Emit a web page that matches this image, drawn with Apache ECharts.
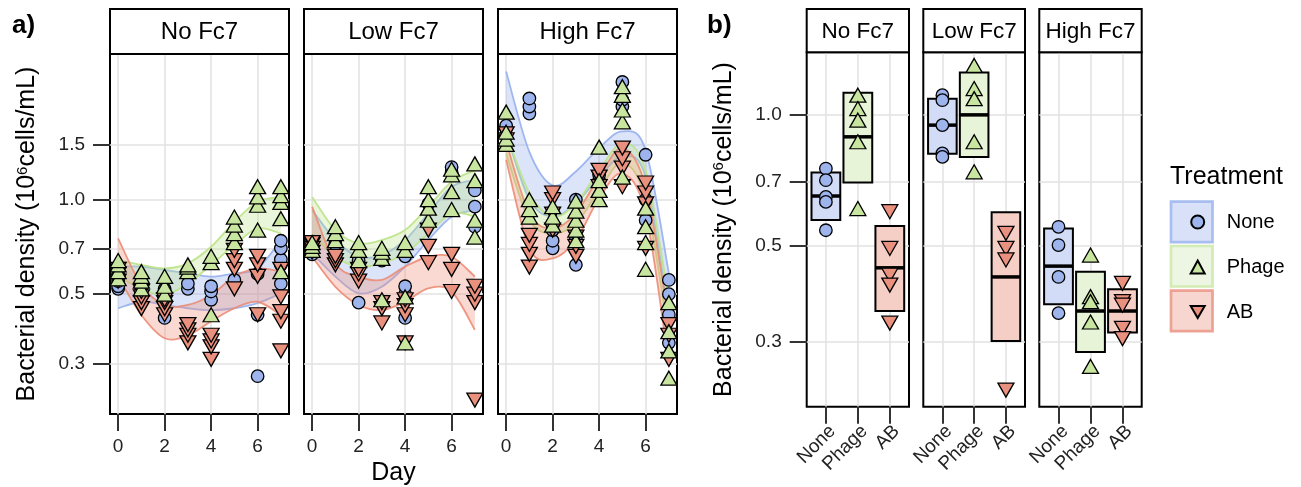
<!DOCTYPE html>
<html><head><meta charset="utf-8">
<script src="https://cdn.jsdelivr.net/npm/echarts@6/dist/echarts.min.js"></script>
<style>html,body{margin:0;padding:0;background:#fff}#c{width:1301px;height:487px}</style>
</head><body><div id="c"></div>
<script>
// ---------- data ----------
const treatments = ['None', 'Phage', 'AB'];
const facets = ['No Fc7', 'Low Fc7', 'High Fc7'];
const days = [0, 1, 2, 3, 4, 5, 6, 7];
const dayTicks = [0, 2, 4, 6];
const yTicksA = [0.3, 0.5, 0.7, 1.0, 1.5];
const yTicksB = [0.3, 0.5, 0.7, 1.0];

// panel a: replicate densities per day (index = day)
const ptsNoNone = [[0.52,0.53,0.55,0.56,0.58],[0.51,0.52,0.53],[0.42,0.49,0.52],[0.52,0.54],[0.48,0.51,0.53],[0.555],[0.274,0.43,0.58],[0.54,0.62,0.645,0.70,0.74]];
const ptsNoPhage = [[0.56,0.59,0.62,0.64],[0.52,0.55,0.57,0.59],[0.50,0.53,0.57],[0.59,0.61,0.62],[0.43,0.63,0.66],[0.73,0.78,0.83,0.88],[0.80,0.96,1.02,1.10],[0.59,0.87,0.98,1.03,1.10]];
const ptsNoAB = [[0.55,0.58,0.60],[0.45,0.47,0.49,0.51],[0.43,0.45,0.47,0.48],[0.35,0.37,0.385,0.40],[0.31,0.34,0.355,0.37],[0.52,0.60,0.64,0.69],[0.43,0.57,0.62,0.66],[0.33,0.41,0.44,0.49,0.60]];
const ptsLowNone = [[0.67,0.69,0.70],[0.72,0.75],[0.47,0.64],[0.64],[0.42,0.50,0.53,0.66],[0.97],[1.22,1.27],[0.82,0.95,1.07]];
const ptsLowPhage = [[0.69,0.71,0.73],[0.74,0.78,0.82],[0.64,0.69,0.73],[0.48,0.65,0.68,0.70],[0.35,0.49,0.69,0.73],[0.86,0.94,1.0,1.10],[0.93,1.06,1.20,1.25],[0.76,0.86,1.15,1.30]];
const ptsLowAB = [[0.68,0.70,0.72,0.73],[0.62,0.64,0.66],[0.55,0.58,0.60],[0.405,0.45,0.47],[0.35,0.43,0.46,0.48],[0.63,0.71,0.80],[0.51,0.60,0.67],[0.23,0.47,0.50,0.53]];
const ptsHighNone = [[1.60,1.69,1.72],[1.88,1.98,2.10],[0.70,0.74,0.80],[0.62,0.75,1.00],[1.15,1.20],[1.98,2.08,2.37],[0.86,1.0,1.39],[0.35,0.43,0.50,0.555]];
const ptsHighPhage = [[1.50,1.56,1.64,1.90],[0.88,0.93,1.0],[0.83,0.88,0.95],[0.74,0.80,0.86,0.92,0.99],[1.00,1.07,1.15,1.47],[1.18,1.77,1.93,2.15,2.29],[0.60,0.73,0.82,0.94],[0.27,0.33,0.38,0.47]];
const ptsHighAB = [[1.55,1.62],[0.61,0.67,0.72,0.77],[0.80,0.90,1.0,1.05],[0.66,0.71,0.76],[1.10,1.18,1.24],[1.10,1.26,1.35,1.46],[0.70,0.97,1.05,1.13],[0.31,0.37,0.40]];

// panel a: smoothed fit confidence band (lower / upper) at each day
const fitNoNoneLo = [0.451,0.473,0.462,0.451,0.445,0.451,0.468,0.503];
const fitNoNoneHi = [0.612,0.612,0.597,0.583,0.569,0.583,0.604,0.744];
const fitNoPhageLo = [0.569,0.52,0.497,0.541,0.62,0.717,0.81,0.78];
const fitNoPhageHi = [0.642,0.62,0.604,0.627,0.708,0.85,0.985,1.02];
const fitNoABLo = [0.569,0.429,0.362,0.37,0.41,0.451,0.473,0.429];
const fitNoABHi = [0.753,0.535,0.462,0.462,0.497,0.569,0.604,0.59];
const fitLowNoneLo = [0.675,0.569,0.503,0.528,0.612,0.744,0.883,0.927];
const fitLowNoneHi = [0.927,0.744,0.658,0.667,0.744,0.905,1.10,1.155];
const fitLowPhageLo = [0.78,0.658,0.612,0.627,0.675,0.78,0.905,0.883];
const fitLowPhageHi = [1.02,0.80,0.726,0.744,0.80,0.95,1.14,1.24];
const fitLowABLo = [0.658,0.528,0.462,0.445,0.473,0.522,0.51,0.385];
const fitLowABHi = [0.95,0.627,0.569,0.555,0.612,0.658,0.658,0.569];
const fitHighNoneLo = [1.63,1.0,0.883,0.973,1.18,1.37,1.18,0.424];
const fitHighNoneHi = [2.56,1.42,1.11,1.23,1.46,1.65,1.44,0.583];
const fitHighPhageLo = [1.40,0.861,0.78,0.84,1.07,1.31,1.0,0.366];
const fitHighPhageHi = [1.63,1.05,0.883,0.973,1.24,1.51,1.24,0.479];
const fitHighABLo = [1.34,0.70,0.65,0.744,1.01,1.21,0.905,0.30];
const fitHighABHi = [1.53,0.905,0.81,0.905,1.18,1.46,1.10,0.414];

// panel b: box [lower, middle, upper] per treatment (None, Phage, AB)
const boxNoFc7 = [[0.572,0.65,0.736],[0.698,0.89,1.124],[0.353,0.444,0.554]];
const boxLowFc7 = [[0.814,0.947,1.09],[0.80,1.0,1.252],[0.301,0.423,0.596]];
const boxHighFc7 = [[0.366,0.448,0.547],[0.284,0.353,0.435],[0.315,0.353,0.396]];
// panel b: replicate values
const sumNoNone = [0.752,0.707,0.647,0.63,0.542];
const sumNoPhage = [1.11,1.034,0.972,0.867,0.608];
const sumNoAB = [0.598,0.492,0.427,0.405,0.331];
const sumLowNone = [1.11,1.081,0.947,0.815,0.80];
const sumLowPhage = [1.30,1.15,1.09,0.867,0.739];
const sumLowAB = [0.533,0.492,0.463,0.232];
const sumHighNone = [0.552,0.501,0.423,0.349];
const sumHighPhage = [0.475,0.381,0.371,0.333,0.263];
const sumHighAB = [0.409,0.371,0.364,0.322,0.305];

// ---------- styling ----------
const FONT = '"Liberation Sans", Arial, Helvetica, sans-serif';
const ptColor = {None: '#9db4ec', Phage: '#c8e69f', AB: '#ea907e'};
const bandFill = {None: 'rgba(140,165,235,0.30)', Phage: 'rgba(190,228,140,0.33)', AB: 'rgba(236,140,118,0.33)'};
const bandLine = {None: 'rgba(150,175,238,0.9)', Phage: 'rgba(190,228,140,0.95)', AB: 'rgba(236,140,118,0.9)'};
const boxFill = {None: '#d2dcf6', Phage: '#e8f4d8', AB: '#f5cfc6'};
const keyFill = {None: '#d8e1f7', Phage: '#edf6e2', AB: '#f6d6cf'};
const keyLine = {None: '#a8bef0', Phage: '#d3ebb4', AB: '#eda293'};
const DOWN_TRI = 'path://M0,0L10,0L5,8.66Z';
const symbolOf = {None: 'circle', Phage: 'triangle', AB: DOWN_TRI};
const sizeOf = {None: 12.5, Phage: [16, 14], AB: [16, 14]};

const gridA = [110, 304, 498].map(l => ({left: l, top: 54, width: 179, height: 360}));
const gridB = [[806.7, 102.3], [923.3, 101.7], [1039.3, 102.4]].map(([l, w]) => ({left: l, top: 52.3, width: w, height: 354.4}));

const ptsA = [[ptsNoNone, ptsNoPhage, ptsNoAB], [ptsLowNone, ptsLowPhage, ptsLowAB], [ptsHighNone, ptsHighPhage, ptsHighAB]];
const fitA = [
  [[fitNoNoneLo, fitNoNoneHi], [fitNoPhageLo, fitNoPhageHi], [fitNoABLo, fitNoABHi]],
  [[fitLowNoneLo, fitLowNoneHi], [fitLowPhageLo, fitLowPhageHi], [fitLowABLo, fitLowABHi]],
  [[fitHighNoneLo, fitHighNoneHi], [fitHighPhageLo, fitHighPhageHi], [fitHighABLo, fitHighABHi]]
];
const boxB = [boxNoFc7, boxLowFc7, boxHighFc7];
const sumB = [[sumNoNone, sumNoPhage, sumNoAB], [sumLowNone, sumLowPhage, sumLowAB], [sumHighNone, sumHighPhage, sumHighAB]];

const tickStyle = {color: '#333', width: 2};
const gridLine = {show: true, lineStyle: {color: '#e2e2e2', width: 1.5}};
const labelBase = {fontSize: 19, color: '#222', fontFamily: FONT};
const noLine = {show: false, onZero: false};

// Catmull-Rom spline through pixel points -> cubic Bezier path commands
function splineSegs(p) {
  let s = '';
  for (let i = 0; i < p.length - 1; i++) {
    const p0 = p[Math.max(i - 1, 0)], p1 = p[i], p2 = p[i + 1], p3 = p[Math.min(i + 2, p.length - 1)];
    const c1 = [p1[0] + (p2[0] - p0[0]) / 6, p1[1] + (p2[1] - p0[1]) / 6];
    const c2 = [p2[0] - (p3[0] - p1[0]) / 6, p2[1] - (p3[1] - p1[1]) / 6];
    s += 'C' + c1[0] + ',' + c1[1] + ' ' + c2[0] + ',' + c2[1] + ' ' + p2[0] + ',' + p2[1];
  }
  return s;
}
function bandRender(t) {
  return (params, api) => {
    if (params.dataIndexInside !== 0) return null;
    const n = params.dataInsideLength;
    const up = [], lo = [];
    for (let i = 0; i < n; i++) {
      up.push(api.coord([api.value(0, i), api.value(2, i)]));
      lo.push(api.coord([api.value(0, i), api.value(1, i)]));
    }
    const loRev = lo.slice().reverse();
    const area = 'M' + up[0][0] + ',' + up[0][1] + splineSegs(up) + 'L' + loRev[0][0] + ',' + loRev[0][1] + splineSegs(loRev) + 'Z';
    const upLine = 'M' + up[0][0] + ',' + up[0][1] + splineSegs(up);
    const loLine = 'M' + lo[0][0] + ',' + lo[0][1] + splineSegs(lo);
    return {type: 'group', children: [
      {type: 'path', shape: {pathData: area}, style: {fill: bandFill[t], stroke: null}},
      {type: 'path', shape: {pathData: upLine}, style: {fill: null, stroke: bandLine[t], lineWidth: 1.8}},
      {type: 'path', shape: {pathData: loLine}, style: {fill: null, stroke: bandLine[t], lineWidth: 1.8}}
    ]};
  };
}

const grids = [], xAxes = [], yAxes = [], series = [];
const yName = 'Bacterial density (10{sup|6}cells/mL)';
const yNameStyle = {fontSize: 25, color: '#000', fontFamily: FONT, rich: {sup: {fontSize: 15, verticalAlign: 'top', fontFamily: FONT, color: '#000'}}};

// panel a
gridA.forEach((g, fi) => {
  grids.push(Object.assign({show: true, borderColor: '#000', borderWidth: 2, backgroundColor: '#fff'}, g));
  xAxes.push({
    type: 'value', gridIndex: fi, min: -0.35, max: 7.35,
    axisLine: noLine,
    axisTick: {show: true, customValues: dayTicks, length: 17, lineStyle: tickStyle},
    axisLabel: Object.assign({customValues: dayTicks, margin: 23.5}, labelBase),
    splitLine: gridLine
  });
  yAxes.push({
    type: 'log', logBase: 10, gridIndex: fi, min: 0.2077, max: 2.91,
    axisLine: noLine,
    axisTick: {show: fi === 0, customValues: yTicksA, length: 17, lineStyle: tickStyle},
    axisLabel: Object.assign({show: fi === 0, customValues: yTicksA, margin: 25, formatter: v => Number(v).toFixed(1)}, labelBase),
    splitLine: gridLine,
    name: fi === 0 ? yName : '', nameLocation: 'middle', nameGap: 70, nameTextStyle: yNameStyle
  });
  treatments.forEach((t, ti) => {
    const [lo, hi] = fitA[fi][ti];
    series.push({
      type: 'custom', name: t + ' fit', xAxisIndex: fi, yAxisIndex: fi, silent: true, z: 2, clip: true,
      data: days.map((d, i) => [d, lo[i], hi[i]]),
      encode: {x: 0, y: [1, 2]},
      renderItem: bandRender(t)
    });
  });
  [0, 2, 1].forEach(ti => {
    const t = treatments[ti];
    const data = [];
    ptsA[fi][ti].forEach((vals, d) => vals.forEach(v => data.push([days[d], v])));
    series.push({
      type: 'scatter', name: t, xAxisIndex: fi, yAxisIndex: fi, data,
      symbol: symbolOf[t], symbolSize: sizeOf[t], z: 4,
      itemStyle: {color: ptColor[t], borderColor: '#000', borderWidth: 1.3, opacity: 1}
    });
  });
});

// panel b
gridB.forEach((g, bi) => {
  const gi = 3 + bi;
  grids.push(Object.assign({show: true, borderColor: '#000', borderWidth: 2, backgroundColor: '#fff'}, g));
  xAxes.push({
    type: 'value', gridIndex: gi, min: 0.4, max: 3.6,
    axisLine: noLine,
    axisTick: {show: true, customValues: [1, 2, 3], length: 17, lineStyle: tickStyle},
    axisLabel: Object.assign({customValues: [1, 2, 3], margin: 15, rotate: 45, align: 'right', verticalAlign: 'top',
      formatter: v => treatments[Math.round(v) - 1]}, labelBase),
    splitLine: gridLine
  });
  yAxes.push({
    type: 'log', logBase: 10, gridIndex: gi, min: 0.2124, max: 1.394,
    axisLine: noLine,
    axisTick: {show: bi === 0, customValues: yTicksB, length: 17, lineStyle: tickStyle},
    axisLabel: Object.assign({show: bi === 0, customValues: yTicksB, margin: 25, formatter: v => Number(v).toFixed(1)}, labelBase),
    splitLine: gridLine,
    name: bi === 0 ? yName : '', nameLocation: 'middle', nameGap: 70, nameTextStyle: yNameStyle
  });
  series.push({
    type: 'custom', name: 'box', xAxisIndex: gi, yAxisIndex: gi, silent: true, z: 3,
    data: boxB[bi].map((b, ti) => [ti + 1, b[0], b[1], b[2], ti]),
    encode: {x: 0, y: [1, 2, 3]},
    renderItem: (params, api) => {
      const x = api.value(0), t = treatments[api.value(4)];
      const tl = api.coord([x - 0.45, api.value(3)]);
      const br = api.coord([x + 0.45, api.value(1)]);
      const ml = api.coord([x - 0.45, api.value(2)]);
      const mr = api.coord([x + 0.45, api.value(2)]);
      return {type: 'group', children: [
        {type: 'rect', shape: {x: tl[0], y: tl[1], width: br[0] - tl[0], height: br[1] - tl[1]},
          style: {fill: boxFill[t], stroke: '#000', lineWidth: 2}},
        {type: 'line', shape: {x1: ml[0], y1: ml[1], x2: mr[0], y2: mr[1]}, style: {stroke: '#000', lineWidth: 3.5}}
      ]};
    }
  });
  treatments.forEach((t, ti) => {
    series.push({
      type: 'scatter', name: t, xAxisIndex: gi, yAxisIndex: gi,
      data: sumB[bi][ti].map(v => [ti + 1, v]),
      symbol: symbolOf[t], symbolSize: sizeOf[t], z: 4,
      itemStyle: {color: ptColor[t], borderColor: '#000', borderWidth: 1.3, opacity: 1}
    });
  });
});

// strips, panel tags, axis title, legend keys
const graphic = [];
function strip(x, w, y0, y1, label, fs) {
  graphic.push({type: 'rect', z: 10, shape: {x, y: y0, width: w, height: y1 - y0}, style: {fill: '#fff', stroke: '#000', lineWidth: 2}});
  graphic.push({type: 'text', z: 11, x: x + w / 2, y: (y0 + y1) / 2 + 1,
    style: {text: label, fontSize: fs, fontFamily: FONT, fill: '#000', align: 'center', verticalAlign: 'middle'}});
}
gridA.forEach((g, i) => strip(g.left, g.width, 9, 54, facets[i], 24));
gridB.forEach((g, i) => strip(g.left, g.width, 9, 52.3, facets[i], 22.5));
graphic.push({type: 'text', x: gridA[1].left + gridA[1].width / 2, y: 473,
  style: {text: 'Day', fontSize: 25, fontFamily: FONT, fill: '#000', align: 'center', verticalAlign: 'middle'}});
graphic.push({type: 'text', x: 12, y: 26, style: {text: 'a)', fontSize: 26, fontWeight: 'bold', fontFamily: FONT, fill: '#000', verticalAlign: 'middle'}});
graphic.push({type: 'text', x: 707, y: 26, style: {text: 'b)', fontSize: 26, fontWeight: 'bold', fontFamily: FONT, fill: '#000', verticalAlign: 'middle'}});
graphic.push({type: 'text', x: 1170, y: 177, style: {text: 'Treatment', fontSize: 25, fontFamily: FONT, fill: '#000', verticalAlign: 'middle'}});
[201.7, 246, 290.7].forEach((y, i) => {
  const t = treatments[i];
  graphic.push({type: 'rect', z: 1, shape: {x: 1171, y, width: 41.5, height: 40.5}, style: {fill: keyFill[t], stroke: keyLine[t], lineWidth: 2.7}});
});

const chart = echarts.init(document.getElementById('c'), null, {renderer: 'canvas'});
chart.setOption({
  animation: false,
  backgroundColor: '#fff',
  textStyle: {fontFamily: FONT},
  grid: grids, xAxis: xAxes, yAxis: yAxes, series,
  graphic,
  legend: {
    orient: 'vertical', left: 1184.7, top: 207, itemWidth: 14, itemHeight: 13, itemGap: 25,
    selectedMode: false, data: treatments, z: 20,
    textStyle: {fontSize: 20, color: '#000', fontFamily: FONT, lineHeight: 20, padding: [0, 0, 0, 17]}
  }
});
</script></body></html>
